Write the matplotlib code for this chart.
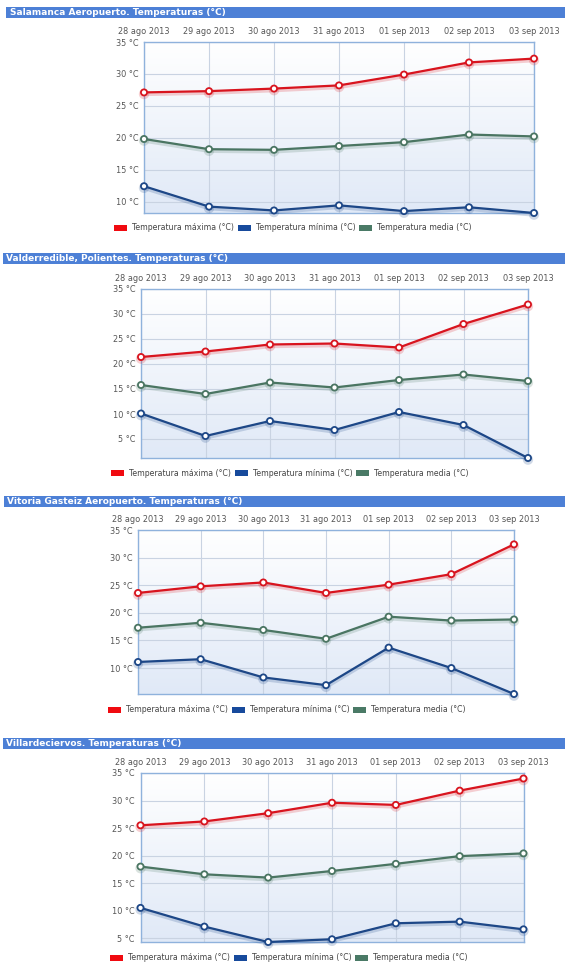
import numpy as np
import matplotlib
matplotlib.use("Agg")
import matplotlib.pyplot as plt
import matplotlib.patheffects as pe
from matplotlib.patches import Rectangle, Patch

W, H = 565, 977

dates = ["28 ago 2013", "29 ago 2013", "30 ago 2013", "31 ago 2013",
         "01 sep 2013", "02 sep 2013", "03 sep 2013"]

stations = ["Salamanca Aeropuerto", "Valderredible, Polientes",
            "Vitoria Gasteiz Aeropuerto", "Villardeciervos"]

salamanca_max = [27.1, 27.3, 27.7, 28.2, 29.9, 31.8, 32.4]
salamanca_min = [12.4, 9.2, 8.6, 9.4, 8.5, 9.1, 8.2]
salamanca_med = [19.8, 18.2, 18.1, 18.7, 19.3, 20.5, 20.2]

valderredible_max = [21.4, 22.5, 23.9, 24.1, 23.3, 28.0, 31.9]
valderredible_min = [10.1, 5.6, 8.6, 6.8, 10.4, 7.8, 1.2]
valderredible_med = [15.8, 14.0, 16.3, 15.3, 16.8, 17.9, 16.6]

vitoria_max = [23.6, 24.8, 25.5, 23.6, 25.1, 27.0, 32.4]
vitoria_min = [11.1, 11.6, 8.3, 6.9, 13.7, 10.0, 5.3]
vitoria_med = [17.3, 18.2, 16.9, 15.3, 19.3, 18.6, 18.8]

villar_max = [25.5, 26.2, 27.7, 29.6, 29.2, 31.8, 34.0]
villar_min = [10.5, 7.1, 4.3, 4.8, 7.7, 8.0, 6.6]
villar_med = [18.0, 16.6, 16.0, 17.2, 18.5, 19.9, 20.4]

series_names = ["Temperatura máxima (°C)", "Temperatura mínima (°C)",
                "Temperatura media (°C)"]
line_colors = ["#d8141e", "#1d4787", "#4a7562"]
legend_colors = ["#f00a10", "#174a9c", "#4a7a66"]

panels = [
    (salamanca_max, salamanca_min, salamanca_med),
    (valderredible_max, valderredible_min, valderredible_med),
    (vitoria_max, vitoria_min, vitoria_med),
    (villar_max, villar_min, villar_med),
]

# layout in pixels: plot box (l, t, r, b), header (x0, y0, y1), legend (x, y)
boxes = [(144, 42, 534, 213), (141, 289, 528, 458),
         (138, 530, 514, 694), (140.5, 773, 523.5, 942)]
headers = [(6, 7, 18), (3, 253, 264), (3.5, 496, 507), (2.5, 738, 749)]
legends = [(114, 228), (111, 473), (108, 710), (110, 958)]

fig = plt.figure(figsize=(W / 100, H / 100), dpi=100)
fig.patch.set_facecolor("white")

grad = np.linspace(0, 1, 256).reshape(-1, 1)
cmap = matplotlib.colors.LinearSegmentedColormap.from_list(
    "bg", ["#ffffff", "#e0e9f7"])

x = np.arange(len(dates))

for i, (name, data) in enumerate(zip(stations, panels)):
    l, t, r, b = boxes[i]
    ax = fig.add_axes([l / W, 1 - b / H, (r - l) / W, (b - t) / H])

    ymin = min(min(s) for s in data)
    ax.set_xlim(0, len(dates) - 1)
    ax.set_ylim(ymin, 35)

    ax.imshow(grad, extent=(0, 1, 0, 1), transform=ax.transAxes,
              cmap=cmap, aspect="auto", zorder=0, origin="upper")

    for vals, col in zip(data, line_colors):
        ax.plot(x, vals, color=col, lw=1.6, marker="o", ms=4.4,
                mfc="white", mec=col, mew=1.3, zorder=3, clip_on=False,
                path_effects=[pe.SimpleLineShadow(offset=(0, -1.2),
                                                  shadow_color=col, alpha=0.2,
                                                  linewidth=3),
                              pe.Normal()])

    yt = [v for v in range(5, 40, 5) if v >= ymin]
    ax.set_yticks(yt)
    ax.set_yticklabels([f"{v} °C" for v in yt], fontsize=5.9)
    ax.set_xticks(x)
    ax.set_xticklabels(dates, fontsize=5.9)
    ax.xaxis.tick_top()
    ax.tick_params(axis="both", length=0, colors="#555555")
    ax.tick_params(axis="x", pad=4)
    ax.tick_params(axis="y", pad=4)
    ax.grid(True, color="#c9d3e2", lw=0.8, zorder=1)
    ax.set_axisbelow(True)
    for sp in ax.spines.values():
        sp.set_color("#8fb2dc")
        sp.set_linewidth(1.0)

    # header bar
    hx, hy0, hy1 = headers[i]
    fig.patches.append(Rectangle((hx / W, 1 - hy1 / H), (W - hx) / W,
                                 (hy1 - hy0) / H, transform=fig.transFigure,
                                 facecolor="#4d80d6", edgecolor="none"))
    fig.text((hx + 3.5) / W, 1 - (hy0 + hy1) / 2 / H,
             f"{name}. Temperaturas (°C)", color="white", fontsize=6.5,
             fontweight="bold", va="center", ha="left")

    handles = [Patch(facecolor=c, edgecolor="none") for c in legend_colors]
    lx, ly = legends[i]
    ax.legend(handles, series_names, ncol=3, frameon=False, fontsize=5.6,
              loc="center left", bbox_to_anchor=(lx / W, 1 - ly / H),
              bbox_transform=fig.transFigure, handlelength=1.7,
              handleheight=0.9, handletextpad=0.6, columnspacing=0.5,
              borderpad=0, borderaxespad=0, labelcolor="#444444")

fig.savefig("out.png", dpi=100)
